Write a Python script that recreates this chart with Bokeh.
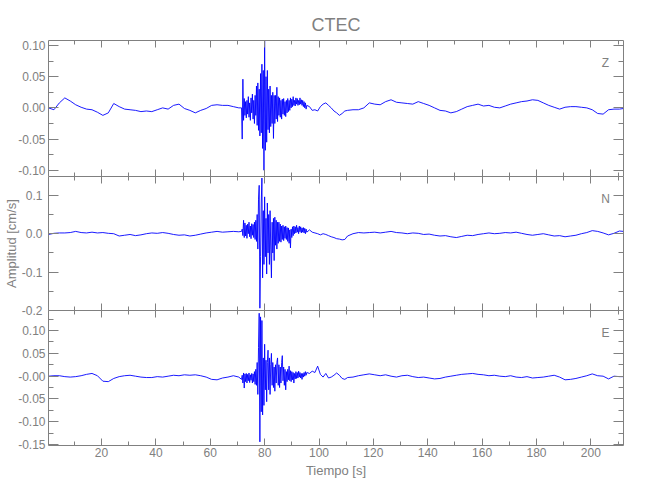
import numpy as np
from bokeh.plotting import figure
from bokeh.layouts import column
from bokeh.models import (Range1d, LinearAxis, SingleIntervalTicker, Label, Title,
                          PrintfTickFormatter, ColumnDataSource)
from bokeh.embed import file_html
from bokeh.resources import INLINE

# ---------------- data ----------------
title_text = "CTEC"
y_label = "Amplitud [cm/s]"
x_label = "Tiempo [s]"
components = ["Z", "N", "E"]

# sample times (s): pre-event, strong motion, coda, late coda
t_pre = np.arange(0.5, 71.0, 2.0)
t_strong = np.arange(71.5, 95.51, 0.25)
t_coda = np.arange(96.5, 110.51, 1.0)
t_post = np.append(np.arange(112.5, 210.51, 2.0), 212.0)
time = np.concatenate([t_pre, t_strong, t_coda, t_post])

z_pre = [0.000, -0.003, 0.008, 0.016, 0.011, 0.005, 0.001, -0.002, -0.003, -0.007,
         -0.012, -0.008, 0.007, 0.002, -0.002, -0.003, -0.004, -0.006, -0.005, -0.006,
         -0.003, 0.000, -0.002, 0.004, 0.006, -0.001, -0.004, -0.008, -0.004, -0.001,
         0.004, 0.005, 0.004, 0.004, 0.002, 0.000]
z_strong = [0.000, -0.050, 0.046, -0.020, 0.015, -0.012, 0.010, -0.016,
            0.012, -0.010, 0.018, -0.015, 0.008, -0.020, 0.016, -0.008,
            0.022, -0.018, 0.012, -0.025, 0.020, -0.012, 0.035, -0.028,
            0.040, -0.036, 0.030, -0.045, 0.055, -0.040, 0.070, -0.065,
            0.060, -0.100, 0.108, -0.068, 0.050, -0.055, 0.060, -0.035,
            0.030, -0.040, 0.035, -0.030, 0.020, -0.025, 0.025, -0.049,
            0.020, -0.025, 0.020, -0.018, 0.033, -0.022, 0.018, -0.012,
            0.016, -0.015, 0.012, -0.018, 0.014, -0.010, 0.015, -0.012,
            0.010, -0.014, 0.012, -0.008, 0.015, -0.006, 0.012, -0.004,
            0.016, 0.000, 0.014, 0.002, 0.018, 0.004, 0.012, 0.003,
            0.016, 0.006, 0.015, 0.004, 0.012, 0.005, 0.016, 0.006,
            0.013, 0.004, 0.012, 0.002, 0.010, 0.000, 0.008, -0.002,
            0.004]
z_coda = [0.002, -0.004, -0.003, -0.005, 0.002, 0.006, 0.008, 0.004, 0.000, -0.005,
          -0.008, -0.012, -0.009, -0.005, -0.004]
z_post = [-0.003, -0.003, 0.000, 0.008, 0.006, 0.005, 0.010, 0.013, 0.009, 0.008,
          0.007, 0.006, 0.010, 0.007, 0.004, 0.000, -0.004, -0.005, -0.008, -0.006,
          -0.002, 0.002, 0.004, 0.006, 0.003, 0.004, 0.001, 0.000, 0.003, 0.006,
          0.008, 0.010, 0.011, 0.013, 0.012, 0.008, 0.004, 0.001, -0.002, 0.001,
          0.002, 0.002, 0.001, 0.000, -0.003, -0.009, -0.010, -0.003, -0.002, -0.002,
          -0.001]

n_pre = [-0.002, 0.001, 0.002, 0.002, 0.003, 0.006, 0.003, 0.002, 0.004, 0.002,
         0.003, 0.001, 0.000, -0.006, -0.004, -0.002, -0.005, -0.003, 0.000, 0.002,
         0.001, 0.003, 0.001, -0.002, -0.004, -0.003, -0.006, -0.004, -0.001, 0.002,
         0.004, 0.006, 0.004, 0.005, 0.006, 0.005]
n_strong = [0.006, 0.012, -0.005, 0.035, -0.010, 0.028, -0.006, 0.022,
            -0.012, 0.025, 0.000, 0.030, -0.008, 0.020, -0.013, 0.026,
            -0.004, 0.024, -0.010, 0.030, -0.015, 0.035, -0.020, 0.050,
            -0.040, 0.090, 0.126, -0.194, -0.060, 0.080, 0.145, -0.115,
            0.060, -0.080, 0.096, -0.060, 0.040, -0.105, 0.080, -0.050,
            0.050, -0.080, 0.060, -0.040, -0.115, 0.030, -0.050, 0.040,
            -0.070, 0.043, -0.030, 0.035, -0.040, 0.030, -0.025, 0.030,
            -0.020, 0.025, -0.022, 0.020, -0.015, 0.022, -0.018, 0.018,
            -0.012, 0.020, -0.015, 0.016, -0.020, 0.015, -0.025, 0.010,
            -0.037, 0.012, -0.010, 0.018, -0.005, 0.020, 0.000, 0.018,
            0.002, 0.022, 0.004, 0.016, 0.000, 0.020, 0.005, 0.018,
            0.002, 0.015, 0.004, 0.016, 0.002, 0.014, 0.000, 0.012,
            0.004]
n_coda = [0.010, 0.004, 0.002, 0.000, -0.003, 0.000, -0.002, -0.005, -0.008, -0.010,
          -0.013, -0.014, -0.016, -0.015, -0.006]
n_post = [0.000, 0.003, 0.002, 0.003, 0.004, 0.002, 0.004, 0.006, 0.003, 0.002,
          0.000, 0.002, 0.001, -0.002, -0.001, -0.004, -0.006, -0.005, -0.008, -0.010,
          -0.007, -0.004, -0.005, -0.002, 0.000, 0.002, 0.000, 0.001, 0.003, 0.002,
          0.004, 0.001, -0.002, -0.004, -0.002, 0.000, -0.003, -0.006, -0.005, -0.008,
          -0.006, -0.004, 0.000, 0.003, 0.008, 0.006, 0.002, -0.003, 0.001, 0.007,
          0.006]

e_pre = [0.000, 0.001, 0.001, -0.001, -0.002, -0.001, 0.001, 0.004, 0.006, 0.001,
         -0.011, -0.012, -0.005, -0.001, 0.001, 0.002, 0.000, -0.002, -0.003, -0.003,
         -0.001, -0.002, 0.000, 0.002, 0.001, 0.003, 0.002, 0.003, 0.001, -0.002,
         -0.007, -0.008, -0.004, -0.002, 0.001, -0.002]
e_strong = [-0.007, 0.002, -0.015, 0.007, -0.026, 0.005, -0.012, 0.006,
            -0.015, 0.004, -0.010, 0.007, -0.014, 0.003, -0.009, 0.006,
            -0.015, 0.005, -0.012, 0.010, -0.018, 0.015, -0.020, 0.030,
            -0.040, 0.063, 0.138, -0.144, 0.130, -0.078, 0.122, -0.085,
            0.040, -0.064, 0.070, -0.030, 0.035, -0.056, 0.030, 0.057,
            -0.030, 0.040, -0.040, 0.025, 0.050, -0.020, 0.030, -0.025,
            0.020, -0.033, 0.025, -0.015, 0.030, 0.040, -0.020, 0.025,
            -0.025, 0.020, -0.015, 0.030, 0.045, -0.010, 0.020, -0.020,
            0.015, -0.030, 0.010, -0.012, 0.015, -0.008, 0.022, -0.010,
            0.012, -0.012, 0.010, -0.008, 0.008, -0.015, 0.006, -0.006,
            0.010, -0.005, 0.008, -0.004, 0.011, -0.002, 0.008, -0.004,
            0.006, -0.007, 0.006, -0.002, 0.008, 0.000, 0.010, 0.002,
            0.008]
e_coda = [0.006, 0.011, 0.008, 0.022, 0.004, -0.002, 0.006, -0.004, -0.002, 0.002,
          0.007, 0.002, -0.005, -0.007, -0.003]
e_post = [-0.002, 0.001, 0.003, 0.005, 0.003, 0.001, 0.003, 0.000, -0.002, 0.001,
          0.002, -0.001, -0.003, -0.002, -0.004, -0.006, -0.005, -0.002, 0.000, 0.002,
          0.004, 0.005, 0.006, 0.004, 0.003, 0.001, 0.002, 0.000, -0.001, 0.001,
          -0.002, -0.003, -0.001, -0.004, -0.003, -0.002, 0.000, 0.002, -0.002, -0.008,
          -0.007, -0.005, -0.002, 0.001, 0.005, 0.001, 0.000, -0.006, 0.000, -0.001,
          -0.001]

traces = {
    "Z": z_pre + z_strong + z_coda + z_post,
    "N": n_pre + n_strong + n_coda + n_post,
    "E": e_pre + e_strong + e_coda + e_post,
}
for k, v in traces.items():
    assert len(v) == len(time), (k, len(v), len(time))

# ---------------- style ----------------
GREY = "#808080"
FONT = "Liberation Sans"
TRACE = "#0000ff"

x_range = Range1d(0.5, 212.0)
y_limits = {"Z": (-0.110, 0.108), "N": (-0.200, 0.149), "E": (-0.152, 0.144)}
y_step = {"Z": 0.05, "N": 0.1, "E": 0.05}
y_fmt = {"Z": "%.2f", "N": "%.1f", "E": "%.2f"}
# (figure height, top border, bottom border, left label standoff, overlap with panel above)
geom = {"Z": (180, 40, 4, 3, 0), "N": (141, 0, 7, 6, 4), "E": (182, 0, 47, 3, 7)}


def style_axis(ax, major_in, minor_in, labels, standoff=3, line=True):
    ax.axis_line_color = GREY if line else None
    ax.major_tick_line_color = GREY
    ax.minor_tick_line_color = GREY
    ax.major_tick_in = major_in
    ax.major_tick_out = 0
    ax.minor_tick_in = minor_in
    ax.minor_tick_out = 0
    ax.major_label_text_font = FONT
    ax.major_label_text_font_style = "normal"
    if labels:
        ax.major_label_text_color = GREY
        ax.major_label_text_font_size = "12px"
        ax.major_label_standoff = standoff
    else:
        ax.major_label_text_color = None
        ax.major_label_text_font_size = "0px"
        ax.major_label_standoff = 0


figs = []
bottom_axes = []
for comp in components:
    h, top, bottom, standoff, overlap = geom[comp]
    p = figure(width=642, height=h, x_range=x_range, y_range=Range1d(*y_limits[comp]),
               output_backend="svg", toolbar_location=None,
               min_border_left=48, min_border_right=19,
               min_border_top=top, min_border_bottom=bottom)
    p.xgrid.visible = False
    p.ygrid.visible = False
    p.outline_line_color = None
    p.background_fill_color = "white"
    if overlap:
        p.border_fill_color = None
        p.margin = (-overlap, 0, 0, 0)

    src = ColumnDataSource(dict(t=time, a=np.array(traces[comp])))
    p.line("t", "a", source=src, line_color=TRACE, line_width=0.9)

    # left axis (labelled) and right axis (ticks only)
    left = p.yaxis[0]
    left.ticker = SingleIntervalTicker(interval=y_step[comp], num_minor_ticks=2)
    left.formatter = PrintfTickFormatter(format=y_fmt[comp])
    style_axis(left, 10, 5, True, standoff)
    if comp == "E":
        left.major_label_overrides = {0: "-0.00"}
    right = LinearAxis(ticker=SingleIntervalTicker(interval=y_step[comp], num_minor_ticks=2))
    style_axis(right, 10, 5, False)
    p.add_layout(right, "right")

    # bottom and top axes (panel boundary line is drawn once, by the lower panel)
    below = p.xaxis[0]
    below.ticker = SingleIntervalTicker(interval=20, num_minor_ticks=2)
    style_axis(below, 7, 4, comp == "E", 2, line=(comp == "E"))
    bottom_axes.append(below)
    top_ax = LinearAxis(ticker=SingleIntervalTicker(interval=20, num_minor_ticks=2))
    style_axis(top_ax, 7, 4, False)
    p.add_layout(top_ax, "above")

    frame_h = h - top - bottom
    p.add_layout(Label(x=557, y=frame_h - 22, x_units="screen", y_units="screen",
                       text=comp, text_align="center", text_baseline="middle",
                       text_color=GREY, text_font=FONT, text_font_size="12px"))
    figs.append(p)

pz, pn, pe = figs
pz.title.text = title_text
pz.title.align = "center"
pz.title.text_font = FONT
pz.title.text_font_size = "18px"
pz.title.text_font_style = "normal"
pz.title.text_color = GREY
pz.title.standoff = 12

xb = bottom_axes[2]
xb.axis_label = x_label
xb.axis_label_text_font = FONT
xb.axis_label_text_font_size = "13px"
xb.axis_label_text_font_style = "normal"
xb.axis_label_text_color = GREY
xb.axis_label_standoff = 3

ylab = Title(text=y_label, align="center", text_font=FONT, text_font_size="13px",
             text_font_style="normal", text_color=GREY, standoff=0)
pn.add_layout(ylab, "left")

layout = column(pz, pn, pe, spacing=0)
open("out.html", "w").write(file_html(layout, INLINE))
